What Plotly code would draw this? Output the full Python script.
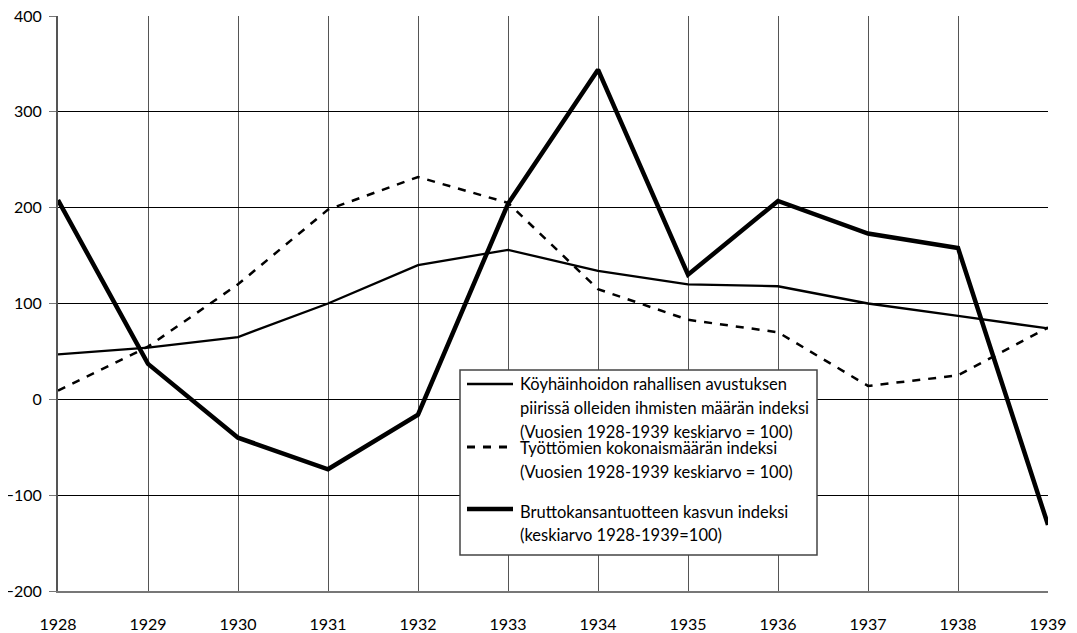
import plotly.graph_objects as go

years = list(range(1928, 1940))

# Köyhäinhoidon rahallisen avustuksen piirissä olleiden ihmisten määrän indeksi
relief = [47, 54, 65, 100, 140, 156, 134, 120, 118, 100, 87, 74]
# Työttömien kokonaismäärän indeksi
unemployed = [9, 55, 120, 198, 232, 205, 115, 83, 70, 14, 25, 75]
# Bruttokansantuotteen kasvun indeksi
gdp_growth = [208, 37, -40, -73, -16, 204, 344, 130, 207, 173, 158, -131]

legend_texts = [
    ["Köyhäinhoidon rahallisen avustuksen",
     "piirissä olleiden ihmisten määrän indeksi",
     "(Vuosien 1928-1939 keskiarvo = 100)"],
    ["Työttömien kokonaismäärän indeksi",
     "(Vuosien 1928-1939 keskiarvo = 100)"],
    ["Bruttokansantuotteen kasvun indeksi",
     "(keskiarvo 1928-1939=100)"],
]

# page has an 8px body margin: the figure starts at (8, 8) and runs to the window edge
OFF = 8
W, H = 1077 - OFF, 633 - OFF
L, T = 58 - OFF, 16 - OFF
R = W - (1048 - OFF)
B = H - (591 - OFF)
FONT = "Lato"


def px(x):
    # page pixel -> paper fraction
    return (x - OFF - L) / (W - L - R)


def py(y):
    return (H - B - (y - OFF)) / (H - T - B)


fig = go.Figure()
fig.add_trace(go.Scatter(x=years, y=relief, mode="lines",
                         line=dict(color="black", width=2.3), showlegend=False))
fig.add_trace(go.Scatter(x=years, y=unemployed, mode="lines",
                         line=dict(color="black", width=2.5, dash="8px,8px"), showlegend=False))
fig.add_trace(go.Scatter(x=years, y=gdp_growth, mode="lines",
                         line=dict(color="black", width=4.5), showlegend=False))

# --- custom legend box ---
shapes = [dict(type="rect", xref="paper", yref="paper",
               x0=px(460), x1=px(817), y0=py(555), y1=py(370),
               line=dict(color="#444", width=1.5), fillcolor="white", layer="above")]
samples = [(384, dict(color="black", width=2.5)),
           (447, dict(color="black", width=2.8, dash="8px,8px")),
           (509, dict(color="black", width=4.5))]
for yy, ln in samples:
    shapes.append(dict(type="line", xref="paper", yref="paper",
                       x0=px(467), x1=px(513), y0=py(yy), y1=py(yy), line=ln, layer="above"))

text_rows = [[384, 408, 432], [448, 472], [512, 535]]
annotations = []
for rows, texts in zip(text_rows, legend_texts):
    for yy, t in zip(rows, texts):
        annotations.append(dict(xref="paper", yref="paper", x=px(518), y=py(yy),
                                text=t, showarrow=False, xanchor="left", yanchor="middle",
                                font=dict(family=FONT, size=16.5, color="black")))

fig.update_layout(
    width=W, height=H,
    margin=dict(l=L, r=R, t=T, b=B, autoexpand=False),
    paper_bgcolor="white", plot_bgcolor="white",
    font=dict(family=FONT, size=16, color="black"),
    shapes=shapes, annotations=annotations,
    xaxis=dict(range=[1928, 1939], tickmode="array", tickvals=years,
               showgrid=True, gridcolor="#555", gridwidth=1,
               showline=True, linecolor="#777", linewidth=2, mirror=False,
               ticks="", ticklabelstandoff=18, ticklabeloverflow="allow",
               zeroline=False, automargin=False,
               tickfont=dict(family=FONT, size=16)),
    yaxis=dict(range=[-200, 400], tickmode="array", tickvals=list(range(-200, 401, 100)),
               showgrid=True, gridcolor="black", gridwidth=1,
               showline=True, linecolor="#555", linewidth=2,
               ticks="outside", ticklen=7, tickcolor="#777", ticklabelstandoff=4,
               ticklabeloverflow="allow",
               zeroline=False, automargin=False, tickfont=dict(family=FONT, size=16)),
)

fig.write_html("out.html")
